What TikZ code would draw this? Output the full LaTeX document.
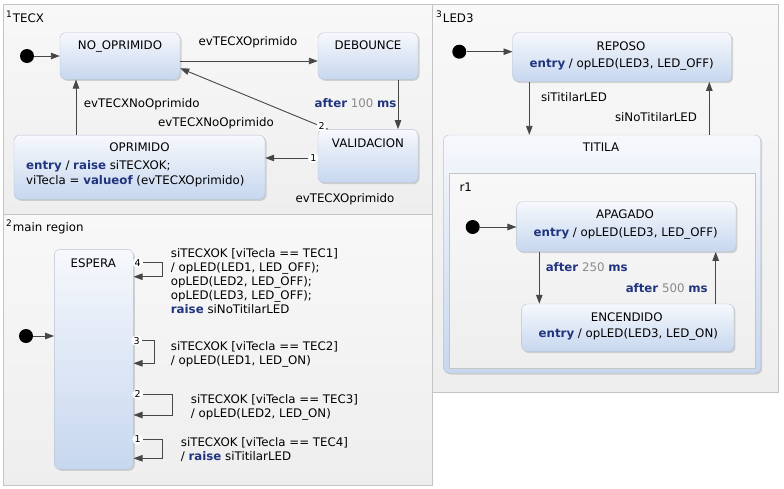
\documentclass[tikz,border=0pt]{standalone}
\usepackage{fontspec}
\setmainfont{DejaVu Sans}
\usetikzlibrary{arrows.meta,shadows,positioning}
\definecolor{clave}{HTML}{21357E}
\definecolor{gris}{HTML}{8A8A8A}
\definecolor{borde}{HTML}{C4C4C4}
\definecolor{bordeazul}{HTML}{B9C3D2}
\definecolor{flecha}{HTML}{474747}
\definecolor{fondo1}{HTML}{F8F8F8}
\definecolor{fondo2}{HTML}{EEEEEE}
\definecolor{azul1}{HTML}{F6F8FC}
\definecolor{azul2}{HTML}{C7D7EF}
\newcommand{\clave}[1]{\textcolor{clave}{\bfseries #1}}
\newcommand{\cifra}[1]{\textcolor{gris}{#1}}
\newcommand{\nreg}[2]{\raisebox{5pt}{\fontsize{9}{9}\selectfont #1}\kern1pt#2}
\tikzset{
  region/.style={draw=borde, top color=fondo1, bottom color=fondo2},
  estado/.style={draw=bordeazul, rounded corners=6pt, top color=azul1, bottom color=azul2,
    drop shadow={shadow xshift=1.5pt, shadow yshift=-1.5pt, opacity=0.3}},
  inicial/.style={circle, fill=black, inner sep=0pt, minimum size=14pt},
  trans/.style={draw=flecha, line width=0.9pt, -{Triangle[length=9pt, width=6.5pt]}},
  texto/.style={inner sep=0pt, anchor=base},
  prio/.style={circle, fill=white, inner sep=0.5pt, font=\fontsize{9.5}{9.5}\selectfont}
}
\begin{document}
\begin{tikzpicture}[x=1pt, y=-1pt, font=\fontsize{11.8}{14}\selectfont]
\useasboundingbox (0,0) rectangle (784,488);
\path[region] (3.5,4.5) rectangle (432.3,214.3);
\path[region] (3.5,214.3) rectangle (432.3,485);
\path[region] (432.3,4.5) rectangle (778.3,391.7);
\node[texto, anchor=base west] (tecx) at (6,22) {\nreg{1}{TECX}};
\node[texto, anchor=base west] (main) at (6,231.5) {\nreg{2}{main region}};
\node[texto, anchor=base west] (led3) at (436,22) {\nreg{3}{LED3}};

\node[estado, minimum width=120pt, minimum height=46.6pt] (noop) at (120,56) {};
\node[estado, minimum width=100pt, minimum height=46.6pt] (deb) at (368,56) {};
\node[estado, minimum width=100pt, minimum height=53.4pt] (val) at (368,156) {};
\node[estado, minimum width=251pt, minimum height=64.3pt] (opr) at (139.5,167.2) {};
\node[inicial] (i1) at (27,56) {};
\node[texto] (noop-t) at (120,49.3) {NO\_OPRIMIDO};
\node[texto] (deb-t) at (368,49.3) {DEBOUNCE};
\node[texto] (val-t) at (368,147) {VALIDACION};
\node[texto] (opr-t) at (139.5,151) {OPRIMIDO};
\node[texto, anchor=base west, align=left, font=\fontsize{11.8}{15}\selectfont] (opr-c) at (26,184.3)
  {\clave{entry} / \clave{raise} siTECXOK;\\ viTecla = \clave{valueof} (evTECXOprimido)};

\draw[trans] (i1) -- (noop);
\draw[trans] (noop.east |- 0,61) -- (deb.west |- 0,61);
\draw[trans] (deb.south -| 398,0) -- (val.north -| 398,0);
\draw[trans] ([xshift=10pt]val.north west) -- (noop.east |- 0,68.3);
\draw[trans] (val.west |- 0,158) -- (opr.east |- 0,158);
\draw[trans] (opr.north -| 76,0) -- (noop.south -| 76,0);
\node[prio] (p2a) at (321.7,126) {2};
\node[prio] (p1a) at (313.3,158) {1};
\node[texto] (e1) at (248,45.3) {evTECXOprimido};
\node[texto] (e2) at (355.5,107.6) {\clave{after} \cifra{100} \clave{ms}};
\node[texto] (e3) at (216,126) {evTECXNoOprimido};
\node[texto] (e4) at (141.7,107) {evTECXNoOprimido};
\node[texto] (e5) at (345,202.6) {evTECXOprimido};

\node[estado, minimum width=79pt, minimum height=220pt] (esp) at (93.8,359.3) {};
\node[texto] (esp-t) at (93.3,267) {ESPERA};
\node[inicial] (i2) at (26,336) {};
\draw[trans] (i2) -- (esp.west |- i2);
\draw[trans] (esp.east |- 0,262.7) -- ++(29,0) |- (esp.east |- 0,276.7);
\draw[trans] (esp.east |- 0,340.7) -- ++(21,0) |- (esp.east |- 0,363.3);
\draw[trans] (esp.east |- 0,394.3) -- ++(39,0) |- (esp.east |- 0,415);
\draw[trans] (esp.east |- 0,439.3) -- ++(29.4,0) |- (esp.east |- 0,458.3);
\node[prio] (p4) at (137.7,262.7) {4};
\node[prio] (p3) at (136.7,340.7) {3};
\node[prio] (p2) at (137.7,394.3) {2};
\node[prio] (p1) at (137.7,439.3) {1};
\node[texto, anchor=base west, align=left] (l4) at (170.7,313.6)
  {siTECXOK [viTecla == TEC1]\\ / opLED(LED1, LED\_OFF);\\ opLED(LED2, LED\_OFF);\\ opLED(LED3, LED\_OFF);\\ \clave{raise} siNoTitilarLED};
\node[texto, anchor=base west, align=left] (l3) at (170.7,364.3)
  {siTECXOK [viTecla == TEC2]\\ / opLED(LED1, LED\_ON)};
\node[texto, anchor=base west, align=left] (l2) at (190.7,417)
  {siTECXOK [viTecla == TEC3]\\ / opLED(LED2, LED\_ON)};
\node[texto, anchor=base west, align=left] (l1) at (180.7,460)
  {siTECXOK [viTecla == TEC4]\\ / \clave{raise} siTitilarLED};

\node[estado, minimum width=219pt, minimum height=49pt] (rep) at (622.2,57.2) {};
\node[estado, minimum width=317.4pt, minimum height=238pt] (tit) at (602,254) {};
\path[region] (449.3,173.3) rectangle (755,368);
\node[estado, minimum width=219.3pt, minimum height=50pt] (apa) at (626.3,226.7) {};
\node[estado, minimum width=212.3pt, minimum height=47.7pt] (enc) at (627.8,327.8) {};
\node[inicial] (i3) at (459.3,51.7) {};
\node[inicial] (i4) at (472.7,227) {};
\node[texto] (rep-t) at (621,50) {REPOSO};
\node[texto] (rep-c) at (621.7,67) {\clave{entry} / opLED(LED3, LED\_OFF)};
\node[texto] (tit-t) at (601,151.6) {TITILA};
\node[texto] (r1) at (465.7,191) {r1};
\node[texto] (apa-t) at (625,218.6) {APAGADO};
\node[texto] (apa-c) at (625.7,236) {\clave{entry} / opLED(LED3, LED\_OFF)};
\node[texto] (enc-t) at (626.7,321) {ENCENDIDO};
\node[texto] (enc-c) at (628.3,337.6) {\clave{entry} / opLED(LED3, LED\_ON)};

\draw[trans] (i3) -- (rep.west |- i3);
\draw[trans] (rep.south -| 529.3,0) -- (tit.north -| 529.3,0);
\draw[trans] (tit.north -| 709.3,0) -- (rep.south -| 709.3,0);
\draw[trans] (i4) -- (apa.west |- i4);
\draw[trans] (apa.south -| 539.3,0) -- (enc.north -| 539.3,0);
\draw[trans] (enc.north -| 715.7,0) -- (apa.south -| 715.7,0);
\node[texto] (e6) at (574,101) {siTitilarLED};
\node[texto] (e7) at (656,121) {siNoTitilarLED};
\node[texto] (e8) at (586.7,271.6) {\clave{after} \cifra{250} \clave{ms}};
\node[texto] (e9) at (666.7,292) {\clave{after} \cifra{500} \clave{ms}};
\end{tikzpicture}
\end{document}
